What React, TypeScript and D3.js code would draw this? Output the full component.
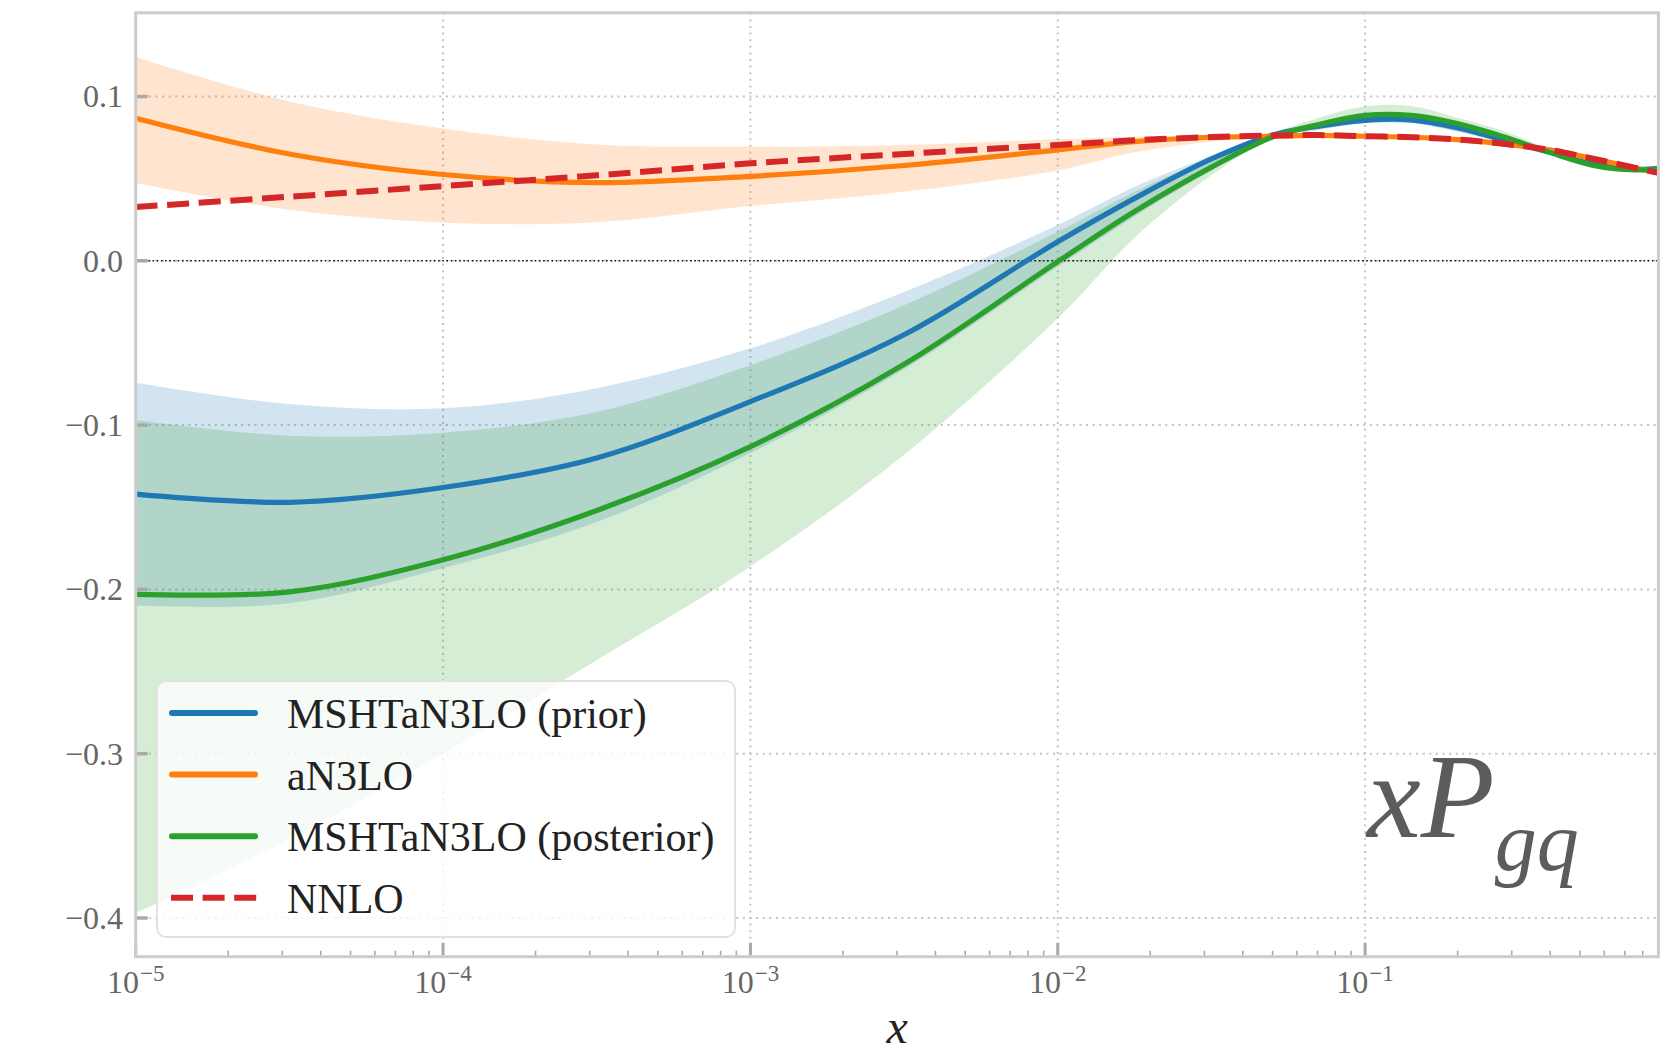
import React, { useEffect } from "react";
import * as d3 from "d3";

// x sample points (log-spaced momentum fraction)
const xValues = [
  1e-5, 3.162e-5, 1e-4, 3.162e-4, 1e-3, 3.162e-3, 1e-2, 1.778e-2, 3.162e-2,
  5.012e-2, 7.079e-2, 0.1, 0.1413, 0.1995, 0.2818, 0.3981, 0.5623, 0.7586, 0.9,
];

// MSHTaN3LO (prior): central value and band
const priorMid = [
  -0.142, -0.147, -0.138, -0.12, -0.0857, -0.045, 0.0116, 0.038, 0.062, 0.0766,
  0.082, 0.0855, 0.0858, 0.081, 0.0735, 0.066, 0.0585, 0.0556, 0.0562,
];
const priorLo = [
  -0.21, -0.2085, -0.187, -0.159, -0.117, -0.066, -0.0036, 0.027, 0.055, 0.0745,
  0.0805, 0.0838, 0.0838, 0.0785, 0.072, 0.0652, 0.0575, 0.0546, 0.0552,
];
const priorHi = [
  -0.0742, -0.0872, -0.0898, -0.0775, -0.0533, -0.019, 0.0218, 0.045, 0.064,
  0.0775, 0.0835, 0.0875, 0.0878, 0.0832, 0.075, 0.0668, 0.0595, 0.0566, 0.0572,
];

// aN3LO: central value and band
const anMid = [
  0.0868, 0.065, 0.0525, 0.0476, 0.0514, 0.058, 0.0675, 0.0725, 0.0752, 0.0758,
  0.0763, 0.0758, 0.0752, 0.0738, 0.0712, 0.0675, 0.0618, 0.0565, 0.0535,
];
const anLo = [
  0.0474, 0.031, 0.0232, 0.0235, 0.0333, 0.042, 0.055, 0.066, 0.0725, 0.0752,
  0.0758, 0.0754, 0.0748, 0.0734, 0.0708, 0.0671, 0.0614, 0.0561, 0.0531,
];
const anHi = [
  0.124, 0.097, 0.0805, 0.0708, 0.0695, 0.0705, 0.074, 0.0755, 0.0765, 0.0765,
  0.0767, 0.0762, 0.0756, 0.0742, 0.0716, 0.0679, 0.0622, 0.0569, 0.0539,
];

// MSHTaN3LO (posterior): central value and band
const postMid = [
  -0.203, -0.2015, -0.182, -0.152, -0.1131, -0.063, -0.0005, 0.03, 0.057, 0.0755,
  0.083, 0.0885, 0.0885, 0.0835, 0.0755, 0.066, 0.0578, 0.0553, 0.0558,
];
const postLo = [
  -0.397, -0.352, -0.3, -0.243, -0.186, -0.118, -0.035, 0.014, 0.052, 0.0745,
  0.0795, 0.0838, 0.0838, 0.079, 0.0725, 0.065, 0.0568, 0.0543, 0.0548,
];
const postHi = [
  -0.0969, -0.1065, -0.1046, -0.092, -0.0634, -0.027, 0.0177, 0.042, 0.063,
  0.0778, 0.087, 0.094, 0.0942, 0.087, 0.079, 0.068, 0.0588, 0.0563, 0.0568,
];

// NNLO reference
const nnlo = [
  0.0327, 0.039, 0.0455, 0.052, 0.0593, 0.065, 0.0705, 0.0733, 0.0753, 0.0762,
  0.0765, 0.0758, 0.0752, 0.0738, 0.0712, 0.0675, 0.0618, 0.0565, 0.0535,
];

const xMajorTicks = [1e-5, 1e-4, 1e-3, 1e-2, 1e-1];
const xTickExponents = ["−5", "−4", "−3", "−2", "−1"];
const yTicks = [-0.4, -0.3, -0.2, -0.1, 0.0, 0.1];

const legendLabels = [
  "MSHTaN3LO (prior)",
  "aN3LO",
  "MSHTaN3LO (posterior)",
  "NNLO",
];

const BLUE = "#1f77b4";
const ORANGE = "#ff7f0e";
const GREEN = "#2ca02c";
const RED = "#d62728";

const W = 1676;
const H = 1055;
const X0 = 135.7;
const X1 = 1658.4;
const Y0 = 12.8;
const Y1 = 956.7;

const FONT = "'Liberation Serif', 'DejaVu Serif', serif";

export default function App() {
  useEffect(() => {
    document.body.style.margin = "0";
  }, []);

  const x = d3.scaleLog().domain([1e-5, 0.9]).range([X0, X1]);
  const y = d3.scaleLinear().domain([-0.42356, 0.15094]).range([Y1, Y0]);

  const curve = d3.curveCatmullRom.alpha(0.5);
  const line = (vals: number[]) =>
    d3
      .line<number>()
      .x((_, i) => x(xValues[i]))
      .y((d) => y(d))
      .curve(curve)(vals) as string;
  const band = (lo: number[], hi: number[]) =>
    d3
      .area<number>()
      .x((_, i) => x(xValues[i]))
      .y0((_, i) => y(lo[i]))
      .y1((_, i) => y(hi[i]))
      .curve(curve)(xValues) as string;

  const minorTicks: number[] = [];
  for (let e = -5; e <= -1; e++) {
    for (let m = 2; m <= 9; m++) {
      const v = m * Math.pow(10, e);
      if (v < 0.9) minorTicks.push(v);
    }
  }

  const fmtY = (v: number) => {
    const s = Math.abs(v).toFixed(1);
    return v < -1e-9 ? "−" + s : s;
  };

  const legendRows = [
    { label: legendLabels[0], color: BLUE, dash: null },
    { label: legendLabels[1], color: ORANGE, dash: null },
    { label: legendLabels[2], color: GREEN, dash: null },
    { label: legendLabels[3], color: RED, dash: "22,9.6" },
  ];

  return (
    <svg
      width={W}
      height={H}
      viewBox={`0 0 ${W} ${H}`}
      style={{ position: "absolute", left: 0, top: 0, display: "block", background: "#fff" }}
      fontFamily={FONT}
    >
      <defs>
        <clipPath id="plotArea">
          <rect x={X0} y={Y0} width={X1 - X0} height={Y1 - Y0} />
        </clipPath>
      </defs>

      {/* grid */}
      <g stroke="#c4c4c4" strokeWidth={2} strokeDasharray="2,4.6">
        {xMajorTicks.map((t) => (
          <line key={"gx" + t} x1={x(t)} x2={x(t)} y1={Y0} y2={Y1} />
        ))}
        {yTicks.map((t) => (
          <line key={"gy" + t} x1={X0} x2={X1} y1={y(t)} y2={y(t)} />
        ))}
      </g>

      <g clipPath="url(#plotArea)">
        {/* uncertainty bands */}
        <path d={band(priorLo, priorHi)} fill={BLUE} fillOpacity={0.2} />
        <path d={band(anLo, anHi)} fill={ORANGE} fillOpacity={0.2} />
        <path d={band(postLo, postHi)} fill={GREEN} fillOpacity={0.2} />

        {/* zero reference */}
        <line
          x1={X0}
          x2={X1}
          y1={y(0)}
          y2={y(0)}
          stroke="#111"
          strokeWidth={1.6}
          strokeDasharray="1.6,2.6"
        />

        {/* central curves */}
        <path d={line(priorMid)} fill="none" stroke={BLUE} strokeWidth={5.2} />
        <path d={line(anMid)} fill="none" stroke={ORANGE} strokeWidth={5.2} />
        <path d={line(postMid)} fill="none" stroke={GREEN} strokeWidth={5.2} />
        <path
          d={line(nnlo)}
          fill="none"
          stroke={RED}
          strokeWidth={6}
          strokeDasharray="22,9.6"
        />
      </g>

      {/* ticks */}
      <g stroke="#a8a8a8">
        {xMajorTicks.map((t) => (
          <line key={"tx" + t} x1={x(t)} x2={x(t)} y1={Y1} y2={Y1 - 14} strokeWidth={3} />
        ))}
        {minorTicks.map((t) => (
          <line key={"mx" + t} x1={x(t)} x2={x(t)} y1={Y1} y2={Y1 - 6} strokeWidth={1.6} />
        ))}
        {yTicks.map((t) => (
          <line key={"ty" + t} x1={X0} x2={X0 + 12} y1={y(t)} y2={y(t)} strokeWidth={3.5} />
        ))}
      </g>

      {/* frame */}
      <rect
        x={X0}
        y={Y0}
        width={X1 - X0}
        height={Y1 - Y0}
        fill="none"
        stroke="#cccccc"
        strokeWidth={3}
      />

      {/* tick labels */}
      <g fill="#666" fontSize={32}>
        {yTicks.map((t) => (
          <text key={"ly" + t} x={123} y={y(t) + 11} textAnchor="end">
            {fmtY(t)}
          </text>
        ))}
        {xMajorTicks.map((t, i) => (
          <text key={"lx" + t} x={x(t)} y={993} textAnchor="middle">
            10
            <tspan fontSize={23} dy={-12} dx={1}>
              {xTickExponents[i]}
            </tspan>
          </text>
        ))}
      </g>

      {/* axis label */}
      <text x={(X0 + X1) / 2} y={1043} textAnchor="middle" fontSize={48} fontStyle="italic" fill="#222">
        x
      </text>

      {/* panel label */}
      <text x={1367} y={837} fontSize={121} fontStyle="italic" fill="#5c5c5c">
        xP
        <tspan fontSize={84} dy={33}>
          gq
        </tspan>
      </text>

      {/* legend */}
      <g>
        <rect
          x={157}
          y={681}
          width={578}
          height={256}
          rx={9}
          fill="#fff"
          fillOpacity={0.8}
          stroke="#e2e2e2"
          strokeWidth={2}
        />
        {legendRows.map((r, i) => {
          const ry = 713 + i * 61.6;
          return (
            <g key={r.label}>
              <line
                x1={r.dash ? 171 : 172}
                x2={r.dash ? 257 : 255}
                y1={ry}
                y2={ry}
                stroke={r.color}
                strokeWidth={6}
                strokeLinecap={r.dash ? "butt" : "round"}
                strokeDasharray={r.dash ?? undefined}
              />
              <text x={287} y={ry + 15} fontSize={42} fill="#222">
                {r.label}
              </text>
            </g>
          );
        })}
      </g>
    </svg>
  );
}
